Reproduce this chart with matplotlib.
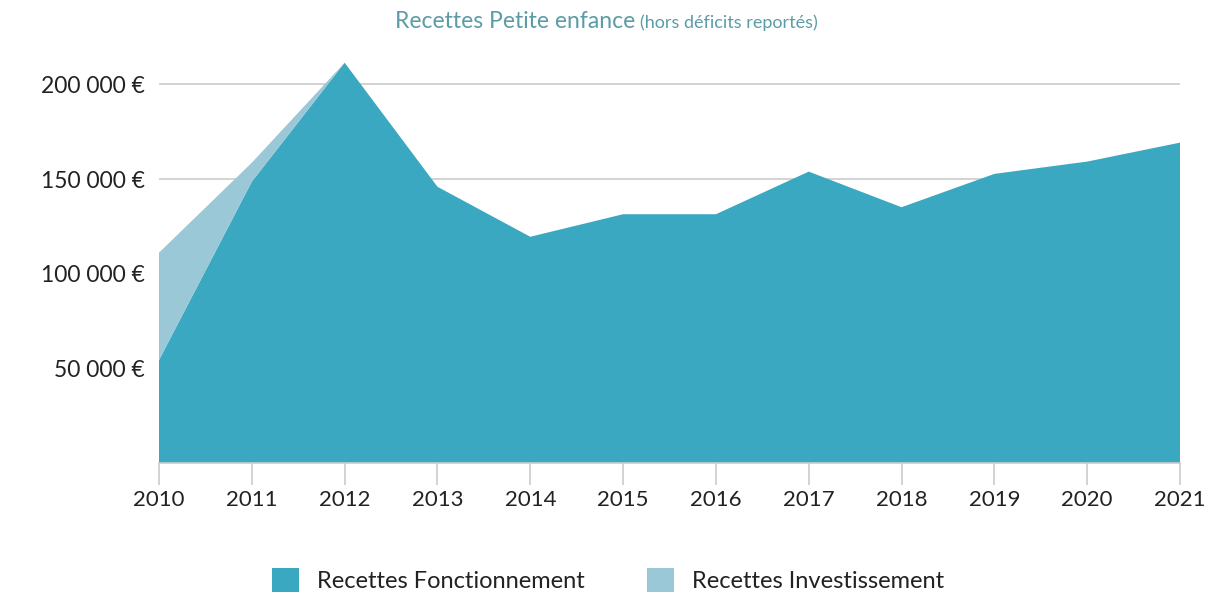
import matplotlib
matplotlib.use("Agg")
import matplotlib.pyplot as plt
from matplotlib.patches import Patch

years = [2010, 2011, 2012, 2013, 2014, 2015, 2016, 2017, 2018, 2019, 2020, 2021]
fonctionnement = [54500, 148700, 211500, 146000, 119600, 131500, 131500, 154000, 135200, 152800, 159300, 169300]
investissement = [56700, 10000, 0, 0, 0, 0, 0, 0, 0, 0, 0, 0]
series_names = ["Recettes Fonctionnement", "Recettes Investissement"]
yticks = [50000, 100000, 150000, 200000]
ytick_labels = ["50 000 €", "100 000 €", "150 000 €", "200 000 €"]

c_fonct = "#3aa8c1"
c_invest = "#9ac8d6"

plt.rcParams['font.family'] = ['Lato', 'DejaVu Sans']

fig = plt.figure(figsize=(12.3, 5.96), dpi=100)
ax = fig.add_axes([159/1230, (596-463.3)/596, (1180-159)/1230, 416.7/596])

ax.stackplot(years, fonctionnement, investissement, colors=[c_fonct, c_invest], linewidth=0, zorder=2)

ax.set_xlim(2010, 2021)
ax.set_ylim(0, 220000)
ax.set_yticks(yticks)
ax.set_yticklabels(ytick_labels)
ax.set_xticks(years)
ax.set_xticklabels([str(y) for y in years])

ax.grid(axis='y', color='#cccccc', linewidth=1.2, zorder=0)
ax.set_axisbelow(True)
for s in ['top', 'right', 'left']:
    ax.spines[s].set_visible(False)
ax.spines['bottom'].set_color('#cccccc')
ax.spines['bottom'].set_linewidth(1.2)

ax.tick_params(axis='y', length=0, pad=10, labelsize=16.5, labelcolor='#222222')
ax.tick_params(axis='x', length=16, width=1.2, color='#cccccc', pad=3, labelsize=16, labelcolor='#222222')

fig.text(635/1230, 1 - 28/596, "Recettes Petite enfance", ha='right', va='baseline', fontsize=16.5, color='#5b9ca6')
fig.text(640/1230, 1 - 28/596, "(hors déficits reportés)", ha='left', va='baseline', fontsize=13, color='#5b9ca6')

handles = [Patch(facecolor=c_fonct, edgecolor='none'), Patch(facecolor=c_invest, edgecolor='none')]
fig.legend(handles, series_names, loc='center', bbox_to_anchor=(608/1230, 1 - 580/596), ncol=2,
           frameon=False, fontsize=17, handlelength=1.15, handleheight=1.15, handletextpad=0.75,
           columnspacing=2.65, labelcolor='#222222')

fig.savefig("out.png", dpi=100, facecolor='white')
